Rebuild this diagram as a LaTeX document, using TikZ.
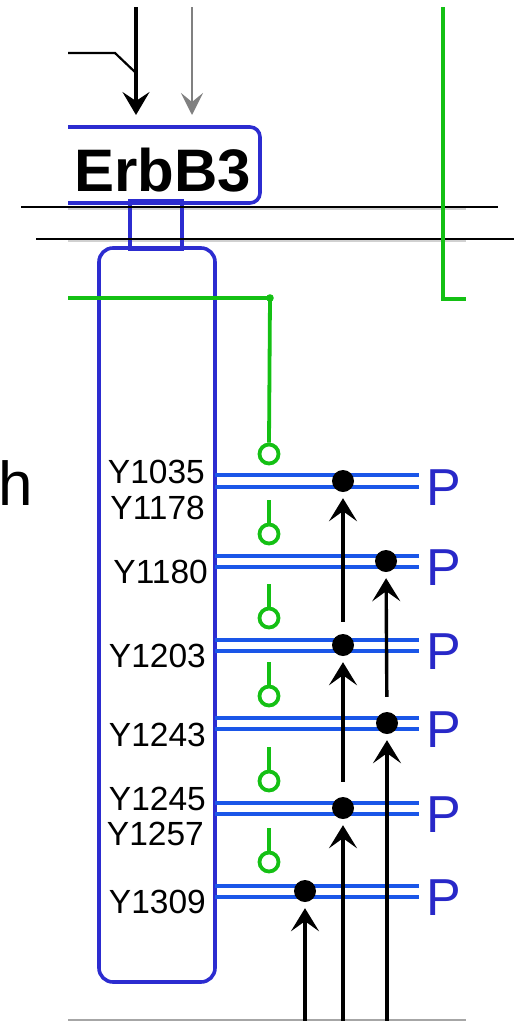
\documentclass[tikz,border=0pt]{standalone}
\usepackage{fontspec}
\setmainfont{Liberation Sans}
\usetikzlibrary{arrows.meta}
\definecolor{boxblue}{RGB}{44,44,208}
\definecolor{pblue}{RGB}{26,86,232}
\definecolor{plabel}{RGB}{40,40,200}
\definecolor{inhgreen}{RGB}{20,192,20}
\begin{document}
\begin{tikzpicture}[x=1pt,y=-1pt,
  protbox/.style={draw=boxblue,line width=3.6pt},
  membrane/.style={draw=black,line width=2.2pt},
  shadowline/.style={draw=black!18,line width=2pt},
  inhib/.style={draw=inhgreen,line width=3.8pt},
  inhcirc/.style={circle,draw=inhgreen,line width=3.8pt,minimum size=19pt,inner sep=0pt},
  pline/.style={draw=pblue,line width=3.4pt},
  site/.style={font=\fontsize{33.5}{36}\selectfont,anchor=base east,inner sep=0pt},
  plab/.style={font=\fontsize{52}{56}\selectfont,text=plabel,anchor=base west,inner sep=0pt},
  pdot/.style={circle,fill=black,minimum size=22pt,inner sep=0pt},
  uparrow/.style={draw=black,line width=3.4pt,-{Stealth[length=23pt,width=28pt,inset=10pt]}},
  downarrow/.style={line width=3.4pt,-{Stealth[length=23pt,width=27pt,inset=9pt]}}
]
\useasboundingbox (0,0) rectangle (526,1021);

% faint guide lines
\draw[shadowline] (68,209) -- (466,209);
\draw[shadowline] (68,241) -- (466,241);
\draw[draw=black!35,line width=1.5pt] (68,1020) -- (466,1020);

% ErbB3 box (cut at left)
\draw[protbox,rounded corners=10pt] (68,127) -- (260,127) -- (260,203) -- (68,203);
\node[font=\bfseries\fontsize{60}{64}\selectfont,anchor=base west,inner sep=0pt] (erbb3) at (74,191) {ErbB3};

% transmembrane part and intracellular box
\node[protbox,rectangle,minimum width=52pt,minimum height=48pt,inner sep=0pt] (tm) at (156,225) {};
\node[protbox,rectangle,rounded corners=14pt,minimum width=116pt,minimum height=734pt,inner sep=0pt] (icd) at (157,615) {};

% membrane lines
\draw[membrane] (21,207) -- (498,207);
\draw[membrane] (36,239) -- (514,239);

% incoming arrows
\coordinate (a1s) at (136,7);
\coordinate (a1e) at (136,115);
\coordinate (a2s) at (192,7);
\coordinate (a2e) at (192,115);
\coordinate (b0) at (68,53);
\coordinate (b1) at (115,53);
\coordinate (b2) at (136,73);
\draw[line width=2.2pt] (b0) -- (b1) -- (b2);
\draw[downarrow,draw=black] (a1s) -- (a1e);
\draw[draw=black!50,line width=2.8pt,-{Stealth[length=22pt,width=22pt,inset=9pt]}] (a2s) -- (a2e);

% green lines
\coordinate (g0) at (68,298);
\coordinate (g1) at (270,298);
\draw[inhib] (g0) -- (g1);
\fill[inhgreen] (g1) circle (3.8pt);
\coordinate (gr0) at (443,7);
\coordinate (gr1) at (443,299);
\coordinate (gr2) at (466,299);
\draw[inhib] (gr0) -- (gr1) -- (gr2);

% inhibitor circles
\node[inhcirc] (c1) at (269,454) {};
\node[inhcirc] (c2) at (269,534) {};
\node[inhcirc] (c3) at (269,618) {};
\node[inhcirc] (c4) at (269,696) {};
\node[inhcirc] (c5) at (269,781) {};
\node[inhcirc] (c6) at (269,862) {};
\draw[inhib] (g1) -- (c1.north);
\coordinate (s2) at (269,500);
\coordinate (s3) at (269,584);
\coordinate (s4) at (269,662);
\coordinate (s5) at (269,747);
\coordinate (s6) at (269,828);
\draw[inhib] (s2) -- (c2.north);
\draw[inhib] (s3) -- (c3.north);
\draw[inhib] (s4) -- (c4.north);
\draw[inhib] (s5) -- (c5.north);
\draw[inhib] (s6) -- (c6.north);

% phosphorylation double lines
\foreach \ya/\yb in {475/487,556/567,640/651,718/729,803/814,886/897}{
  \draw[pline] (215,\ya) -- (419,\ya);
  \draw[pline] (215,\yb) -- (419,\yb);
}

% dots
\node[pdot] (d1) at (343,481) {};
\node[pdot] (d2) at (386,561) {};
\node[pdot] (d3) at (343,645) {};
\node[pdot] (d4) at (387,723) {};
\node[pdot] (d5) at (343,808) {};
\node[pdot] (d6) at (305,891) {};

% P labels
\node[plab] (p1) at (426,505) {P};
\node[plab] (p2) at (426,585) {P};
\node[plab] (p3) at (426,669) {P};
\node[plab] (p4) at (426,747) {P};
\node[plab] (p5) at (426,832) {P};
\node[plab] (p6) at (426,915) {P};

% site labels
\node[site] (y1035) at (205,483) {Y1035};
\node[site] (y1178) at (205,519) {Y1178};
\node[site] (y1180) at (208,583) {Y1180};
\node[site] (y1203) at (206,667) {Y1203};
\node[site] (y1243) at (206,746) {Y1243};
\node[site] (y1245) at (206,810) {Y1245};
\node[site] (y1257) at (204,845) {Y1257};
\node[site] (y1309) at (206,913) {Y1309};

% upward arrows
\coordinate (u1) at (343,1021);
\coordinate (u2) at (387,1021);
\coordinate (u3) at (305,1021);
\draw[uparrow,shorten <=12pt,shorten >=6pt] (d3) -- (d1);
\draw[uparrow,shorten <=15pt,shorten >=6pt] (d5) -- (d3);
\draw[uparrow,shorten >=6pt] (u1) -- (d5);
\draw[uparrow,shorten <=15pt,shorten >=6pt] (d4) -- (d2);
\draw[uparrow,shorten >=6pt] (u2) -- (d4);
\draw[uparrow,shorten >=6pt] (u3) -- (d6);

% text at left edge
\node[font=\fontsize{62}{66}\selectfont,anchor=base east,inner sep=0pt] (hcut) at (33,505) {h};
\end{tikzpicture}
\end{document}
